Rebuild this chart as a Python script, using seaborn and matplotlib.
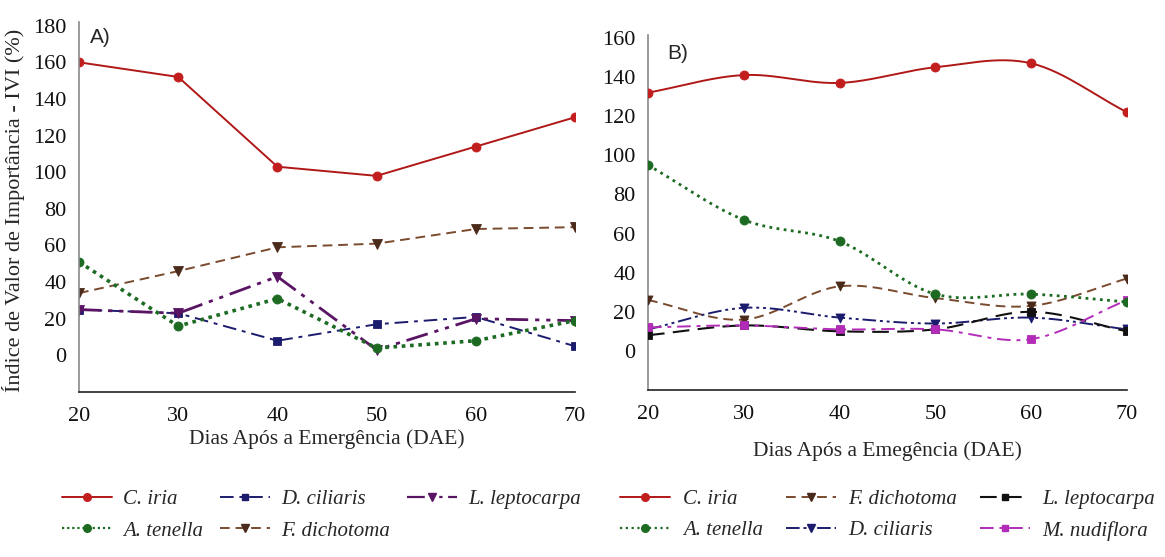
import numpy as np
import pandas as pd
import matplotlib
matplotlib.use("Agg")
import matplotlib.pyplot as plt
import seaborn as sns
from matplotlib.lines import Line2D

sns.set_theme(style="white")
plt.rcParams['font.family'] = ['Liberation Serif', 'DejaVu Serif']

# ---------------- data ----------------
dae = [20, 30, 40, 50, 60, 70]

# Panel A
a_c_iria = [160, 152, 103, 98, 114, 130]
a_a_tenella = [51, 16, 31, 4, 8, 19]
a_d_ciliaris = [25, 23, 8, 17, 21, 5]
a_f_dichotoma = [34, 46, 59, 61, 69, 70]
a_l_leptocarpa = [25, 23, 43, 3, 20, 19]

# Panel B
b_c_iria = [132, 141, 137, 145, 147, 122]
b_a_tenella = [95, 67, 56, 29, 29, 25]
b_f_dichotoma = [26, 16, 33, 27, 23, 37]
b_d_ciliaris = [11, 22, 17, 14, 17, 11]
b_l_leptocarpa = [8, 13, 10, 11, 20, 10]
b_m_nudiflora = [12, 13, 11, 11, 6, 26]

x_label = "Dias Após a Emergência (DAE)"
x_label_b = "Dias Após a Emegência (DAE)"
y_label = "Índice de Valor de Importância - IVI (%)"

# ---------------- styles ----------------
RED = "#B01818"
GREEN = "#1D6B22"
NAVY = "#1C1C6E"
BROWN = "#7A4A2E"
PURPLE = "#5A1464"
BLACK = "#111111"
MAGENTA = "#B22CB8"

styles_a = {
    "C. iria": dict(color=RED, ls="-", marker="o", lw=1.4, mfc="#C21E1E", ms=6.5),
    "A. tenella": dict(color=GREEN, ls=(0, (1, 1.3)), marker="o", lw=2.6, mfc=GREEN, ms=6.5),
    "D. ciliaris": dict(color=NAVY, ls=(0, (7, 3, 2, 3)), marker="s", lw=1.4, mfc=NAVY, ms=6),
    "F. dichotoma": dict(color=BROWN, ls=(0, (5, 3)), marker="v", lw=1.4, mfc="#4A2A1A", ms=6.5),
    "L. leptocarpa": dict(color=PURPLE, ls=(0, (8, 2.5, 1.5, 2.5, 1.5, 2.5)), marker="v", lw=2.0, mfc=PURPLE, ms=6.5),
}
styles_b = {
    "C. iria": dict(color=RED, ls="-", marker="o", lw=1.4, mfc="#C21E1E", ms=6.5),
    "A. tenella": dict(color=GREEN, ls=(0, (1, 1.6)), marker="o", lw=2.0, mfc=GREEN, ms=6.5),
    "F. dichotoma": dict(color=BROWN, ls=(0, (5, 3)), marker="v", lw=1.4, mfc="#4A2A1A", ms=6.5),
    "D. ciliaris": dict(color=NAVY, ls=(0, (7, 2, 1.5, 2, 1.5, 2)), marker="v", lw=1.4, mfc=NAVY, ms=6.5),
    "L. leptocarpa": dict(color=BLACK, ls=(0, (8, 4)), marker="s", lw=1.5, mfc=BLACK, ms=6),
    "M. nudiflora": dict(color=MAGENTA, ls=(0, (7, 3, 2, 3)), marker="s", lw=1.4, mfc=MAGENTA, ms=6),
}


def catmull_rom(xs, ys, n=30):
    xs = np.asarray(xs, float)
    ys = np.asarray(ys, float)
    px = np.concatenate([[2 * xs[0] - xs[1]], xs, [2 * xs[-1] - xs[-2]]])
    py = np.concatenate([[2 * ys[0] - ys[1]], ys, [2 * ys[-1] - ys[-2]]])
    ox, oy = [], []
    t = np.linspace(0, 1, n, endpoint=False)
    for i in range(1, len(px) - 2):
        for arr, out in ((px, ox), (py, oy)):
            p0, p1, p2, p3 = arr[i - 1], arr[i], arr[i + 1], arr[i + 2]
            out.extend(0.5 * ((2 * p1) + (-p0 + p2) * t + (2 * p0 - 5 * p1 + 4 * p2 - p3) * t ** 2
                              + (-p0 + 3 * p1 - 3 * p2 + p3) * t ** 3))
    ox.append(xs[-1]); oy.append(ys[-1])
    return np.array(ox), np.array(oy)


def style_axes(ax, ylim, yticks):
    ax.set_xlim(20, 70)
    ax.set_ylim(*ylim)
    ax.set_xticks(dae)
    ax.set_yticks(yticks)
    for s in ("top", "right"):
        ax.spines[s].set_visible(False)
    ax.spines["left"].set_color("#8A8A8A")
    ax.spines["left"].set_linewidth(1.2)
    ax.spines["bottom"].set_color("#222222")
    ax.spines["bottom"].set_linewidth(1.2)
    ax.tick_params(axis="both", which="both", direction="out", length=5, width=1,
                   labelsize=16, pad=4, colors="#111111")
    ax.tick_params(axis="y", colors="#8A8A8A", labelcolor="#111111")
    ax.tick_params(axis="x", pad=6)
    ax.grid(False)


fig = plt.figure(figsize=(11.65, 5.57), dpi=100)
axA = fig.add_axes([0.0678, 0.2962, 0.4258, 0.6643])
axB = fig.add_axes([0.5562, 0.2998, 0.4112, 0.6374])

# Panel A: straight lines
series_a = {
    "C. iria": a_c_iria,
    "D. ciliaris": a_d_ciliaris,
    "L. leptocarpa": a_l_leptocarpa,
    "A. tenella": a_a_tenella,
    "F. dichotoma": a_f_dichotoma,
}
for name in ["F. dichotoma", "D. ciliaris", "L. leptocarpa", "A. tenella", "C. iria"]:
    st = styles_a[name]
    df = pd.DataFrame({"x": dae, "y": series_a[name]})
    sns.lineplot(data=df, x="x", y="y", ax=axA, color=st["color"], linestyle=st["ls"],
                 linewidth=st["lw"], marker=st["marker"], markersize=st["ms"],
                 markerfacecolor=st["mfc"], markeredgecolor=st["mfc"], markeredgewidth=0.6,
                 estimator=None, sort=False)
style_axes(axA, (-20, 182), [0, 20, 40, 60, 80, 100, 120, 140, 160, 180])
axA.set_xlabel(x_label, fontsize=15.5, labelpad=2)
axA.set_ylabel(y_label, fontsize=16)
axA.yaxis.set_label_coords(-0.108, 0.49)
axA.text(0.022, 0.985, "A)", transform=axA.transAxes, fontsize=15,
         family=["Liberation Sans", "DejaVu Sans"], va="top", ha="left")

# Panel B: smoothed lines
series_b = {
    "C. iria": b_c_iria,
    "F. dichotoma": b_f_dichotoma,
    "L. leptocarpa": b_l_leptocarpa,
    "A. tenella": b_a_tenella,
    "D. ciliaris": b_d_ciliaris,
    "M. nudiflora": b_m_nudiflora,
}
for name in ["F. dichotoma", "D. ciliaris", "L. leptocarpa", "M. nudiflora", "A. tenella", "C. iria"]:
    st = styles_b[name]
    sx, sy = catmull_rom(dae, series_b[name])
    sns.lineplot(x=sx, y=sy, ax=axB, color=st["color"], linestyle=st["ls"],
                 linewidth=st["lw"], estimator=None, sort=False)
    sns.scatterplot(x=dae, y=series_b[name], ax=axB, marker=st["marker"], s=st["ms"] ** 2,
                    color=st["mfc"], edgecolor=st["mfc"], linewidth=0.6, zorder=3)
style_axes(axB, (-20, 161.5), [0, 20, 40, 60, 80, 100, 120, 140, 160])
axB.set_xlabel(x_label_b, fontsize=15.5, labelpad=12)
axB.set_ylabel("")
axB.text(0.04, 0.975, "B)", transform=axB.transAxes, fontsize=15,
         family=["Liberation Sans", "DejaVu Sans"], va="top", ha="left")


def handle(st):
    return Line2D([], [], color=st["color"], linestyle=st["ls"], linewidth=min(st["lw"], 1.6),
                  marker=st["marker"], markersize=st["ms"] - 1, markerfacecolor=st["mfc"],
                  markeredgecolor=st["mfc"])


leg_font = dict(family="Liberation Serif", style="italic", size=15)

order_a = ["C. iria", "A. tenella", "D. ciliaris", "F. dichotoma", "L. leptocarpa"]
fig.legend([handle(styles_a[n]) for n in order_a], order_a, loc="center",
           bbox_to_anchor=(0.276, 0.075), ncol=3, frameon=False, prop=leg_font,
           handlelength=2.4, columnspacing=0.8, handletextpad=0.55, labelspacing=0.55)

order_b = ["C. iria", "A. tenella", "F. dichotoma", "D. ciliaris", "L. leptocarpa", "M. nudiflora"]
fig.legend([handle(styles_b[n]) for n in order_b], order_b, loc="center",
           bbox_to_anchor=(0.762, 0.075), ncol=3, frameon=False, prop=leg_font,
           handlelength=2.4, columnspacing=1.1, handletextpad=0.6, labelspacing=0.55)

fig.savefig("out.png", dpi=100)
